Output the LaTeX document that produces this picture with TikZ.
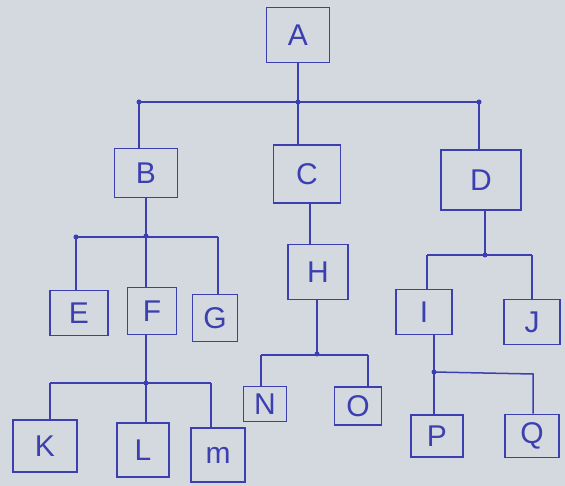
\documentclass[tikz,border=0pt]{standalone}
\usepackage{fontspec}
\setmainfont{Liberation Sans}
\definecolor{paper}{HTML}{D3D9DE}
\definecolor{ink}{HTML}{3C3FB0}
\begin{document}
\begin{tikzpicture}[x=1pt,y=-1pt,
  box/.style={draw=ink, line width=1.6pt, text=ink, inner sep=0pt,
    font=\fontsize{30}{34}\selectfont},
  link/.style={draw=ink, line width=1.5pt},
  jdot/.style={fill=ink, circle, inner sep=0pt, minimum size=5pt}]
\fill[paper] (0,0) rectangle (565,486);
\useasboundingbox (0,0) rectangle (565,486);
% boxes
\node[box, minimum width=63pt, minimum height=55pt] (A) at (298,35) {A};
\node[box, minimum width=63pt, minimum height=49pt] (B) at (146,173) {B};
\node[box, minimum width=67pt, minimum height=58pt] (C) at (307,174) {C};
\node[box, minimum width=80pt, minimum height=60pt] (D) at (481,180) {D};
\node[box, minimum width=58pt, minimum height=45pt] (E) at (79,313) {E};
\node[box, minimum width=49pt, minimum height=47pt] (F) at (152,311) {F};
\node[box, minimum width=45pt, minimum height=47pt] (G) at (215,318) {G};
\node[box, minimum width=60pt, minimum height=55pt] (H) at (318,272) {H};
\node[box, minimum width=56pt, minimum height=45pt] (I) at (424,312) {I};
\node[box, minimum width=56pt, minimum height=45pt] (J) at (532,322) {J};
\node[box, minimum width=43pt, minimum height=35pt] (N) at (265,404) {N};
\node[box, minimum width=47pt, minimum height=38pt] (O) at (358,406) {O};
\node[box, minimum width=64pt, minimum height=52pt] (K) at (45,446) {K};
\node[box, minimum width=52pt, minimum height=54pt] (L) at (143,450) {L};
\node[box, minimum width=54pt, minimum height=54pt] (M) at (218,455) {m};
\node[box, minimum width=52pt, minimum height=42pt] (P) at (437,436) {P};
\node[box, minimum width=54pt, minimum height=43pt] (Q) at (532,436) {Q};
% junction coordinates
\coordinate (jA) at (298,102);
\coordinate (lA) at (139,102);
\coordinate (rA) at (479,102);
\coordinate (jB) at (146,236);
\coordinate (lB) at (76,237);
\coordinate (rB) at (218,237);
\coordinate (jH) at (317,354);
\coordinate (lH) at (261,355);
\coordinate (rH) at (368,355);
\coordinate (jD) at (485,255);
\coordinate (lD) at (427,255);
\coordinate (rD) at (532,255);
\coordinate (jI) at (434,372);
\coordinate (rI) at (533,374);
\coordinate (jF) at (146,383);
\coordinate (lF) at (50,383);
\coordinate (rF) at (211,383);
% connectors
\draw[link] (A.south -| jA) -- (jA) -- (C.north -| jA);
\draw[link] (lA) -- (rA);
\draw[link] (lA) -- (B.north -| lA);
\draw[link] (rA) -- (D.north -| rA);
\draw[link] (B.south -| jB) -- (jB) -- (F.north -| jB);
\draw[link] (lB) -- (rB);
\draw[link] (lB) -- (E.north -| lB);
\draw[link] (rB) -- (G.north -| rB);
\draw[link] (C.south -| 310,0) -- (H.north -| 310,0);
\draw[link] (H.south -| jH) -- (jH);
\draw[link] (lH) -- (rH);
\draw[link] (lH) -- (N.north -| lH);
\draw[link] (rH) -- (O.north -| rH);
\draw[link] (D.south -| jD) -- (jD);
\draw[link] (lD) -- (rD);
\draw[link] (lD) -- (I.north -| lD);
\draw[link] (rD) -- (J.north -| rD);
\draw[link] (I.south -| jI) -- (jI) -- (P.north -| jI);
\draw[link] (jI) -- (rI) -- (Q.north -| rI);
\draw[link] (F.south -| jF) -- (jF) -- (L.north -| jF);
\draw[link] (lF) -- (rF);
\draw[link] (lF) -- (K.north -| lF);
\draw[link] (rF) -- (M.north -| rF);
% junction dots
\foreach \p in {jA,lA,rA,jB,lB,jH,jD,jI,jF} \node[jdot] at (\p) {};
\end{tikzpicture}
\end{document}
